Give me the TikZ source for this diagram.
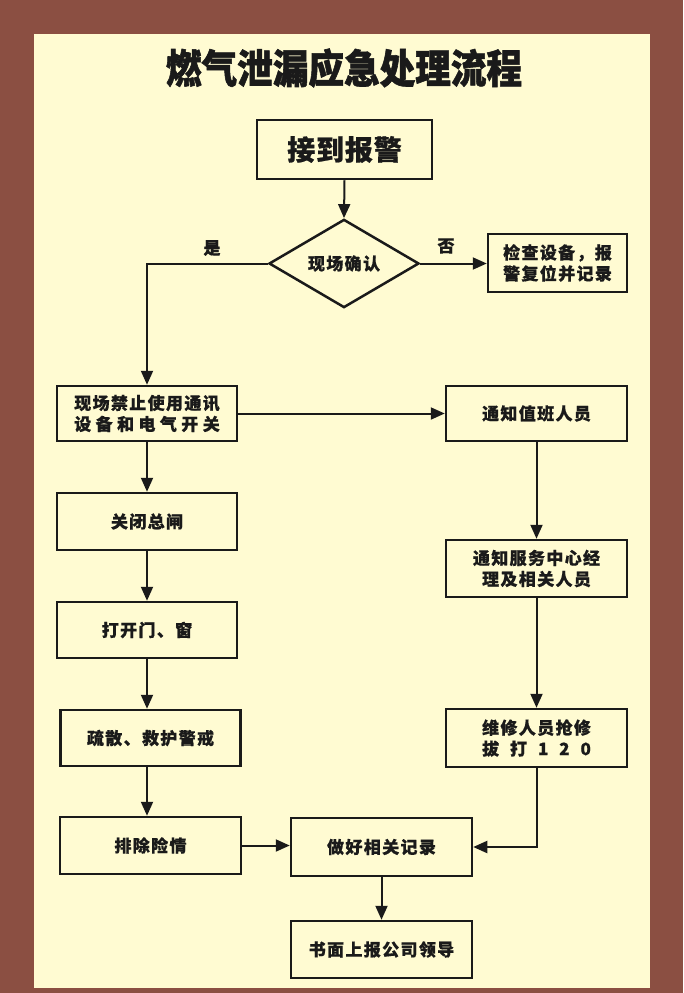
\documentclass[tikz,border=0pt]{standalone}
\usepackage{fontspec}
\usetikzlibrary{shapes.geometric,arrows.meta}
\newfontfamily\cjkls{Noto Sans CJK SC}[LetterSpace=8,BoldFeatures={FakeBold=0.6}]
\newfontfamily\cjkbig{Noto Sans CJK SC}[LetterSpace=3,BoldFeatures={FakeBold=0.8}]
\newfontfamily\titlefont{Noto Sans CJK SC}[BoldFeatures={FakeBold=1.5}]
\definecolor{framebrown}{HTML}{8B4F42}
\definecolor{paper}{HTML}{FFFBD2}
\definecolor{ink}{HTML}{1A1A1A}
\newlength\spreadlen
\newcommand\spreadto[2]{\settowidth\spreadlen{#1}\makebox[\spreadlen][s]{#2}}
\begin{document}
\begin{tikzpicture}[x=1pt,y=-1pt,
  boxtext/.style={font=\cjkls\bfseries\fontsize{17}{21}\selectfont,text=ink},
  box/.style={boxtext,draw=ink,line width=2.5pt,inner sep=0pt,align=center},
  arr/.style={draw=ink,line width=2pt,-{Triangle[length=14pt,width=12pt]}},
]
\useasboundingbox (0,0) rectangle (683,993);
\fill[framebrown] (0,0) rectangle (683,993);
\fill[paper] (34,34) rectangle (650,988);

\node[text=ink,font=\titlefont\bfseries\fontsize{40}{40}\selectfont] (title) at (344,68)
  {\scalebox{0.89}[1]{燃气泄漏应急处理流程}};

\node[box,font=\cjkbig\bfseries\fontsize{28}{28}\selectfont,minimum width=175pt,minimum height=59pt] (alarm) at (344.5,149.5) {接到报警};
\node[box,shape=diamond,minimum width=150pt,minimum height=79pt] (confirm) at (344,263.5) {现场确认};
\node[box,minimum width=139pt,minimum height=58pt] (check) at (557.5,263) {检查设备，报\\警复位并记录};
\node[box,minimum width=180pt,minimum height=55pt] (ban) at (147,413.5)
  {现场禁止使用通讯\\\spreadto{现场禁止使用通讯}{设 备 和 电 气 开 关}};
\node[box,minimum width=181pt,minimum height=55pt] (notify) at (536.5,413.5) {通知值班人员};
\node[box,minimum width=180pt,minimum height=57pt] (close) at (147,521.5) {关闭总闸};
\node[box,minimum width=180pt,minimum height=56pt] (open) at (147,630) {打开门、窗};
\node[box,minimum width=180pt,minimum height=56pt] (evac) at (150.5,738) {疏散、救护警戒};
\node[box,minimum width=181pt,minimum height=57pt] (remove) at (150.5,845.5) {排除险情};
\node[box,minimum width=181pt,minimum height=58pt] (record) at (381.5,847) {做好相关记录};
\node[box,minimum width=181pt,minimum height=57pt] (report) at (381.5,949.5) {书面上报公司领导};
\node[box,minimum width=181pt,minimum height=57pt] (center) at (536.5,568.5) {通知服务中心经\\理及相关人员};
\node[box,minimum width=181pt,minimum height=58pt] (repair) at (536.5,738)
  {维修人员抢修\\\spreadto{维修人员抢修}{拔 打 1 2 0}};

\node[boxtext] (yes) at (212,248) {是};
\node[boxtext] (no) at (446,246) {否};

\draw[arr] (alarm.south) -- (confirm.north);
\draw[arr] (confirm.west) -| (ban.north);
\draw[arr] (confirm.east) -- (confirm.east -| check.west);
\draw[arr] (ban.east) -- (notify.west);
\draw[arr] (ban.south) -- (close.north);
\draw[arr] (close.south) -- (open.north);
\draw[arr] (open.south) -- (open.south |- evac.north);
\draw[arr] (open.south |- evac.south) -- (open.south |- remove.north);
\draw[arr] (remove.east) -- (remove.east -| record.west);
\draw[arr] (notify.south) -- (center.north);
\draw[arr] (center.south) -- (repair.north);
\draw[arr] (repair.south) |- (record.east);
\draw[arr] (record.south) -- (report.north);
\end{tikzpicture}
\end{document}
